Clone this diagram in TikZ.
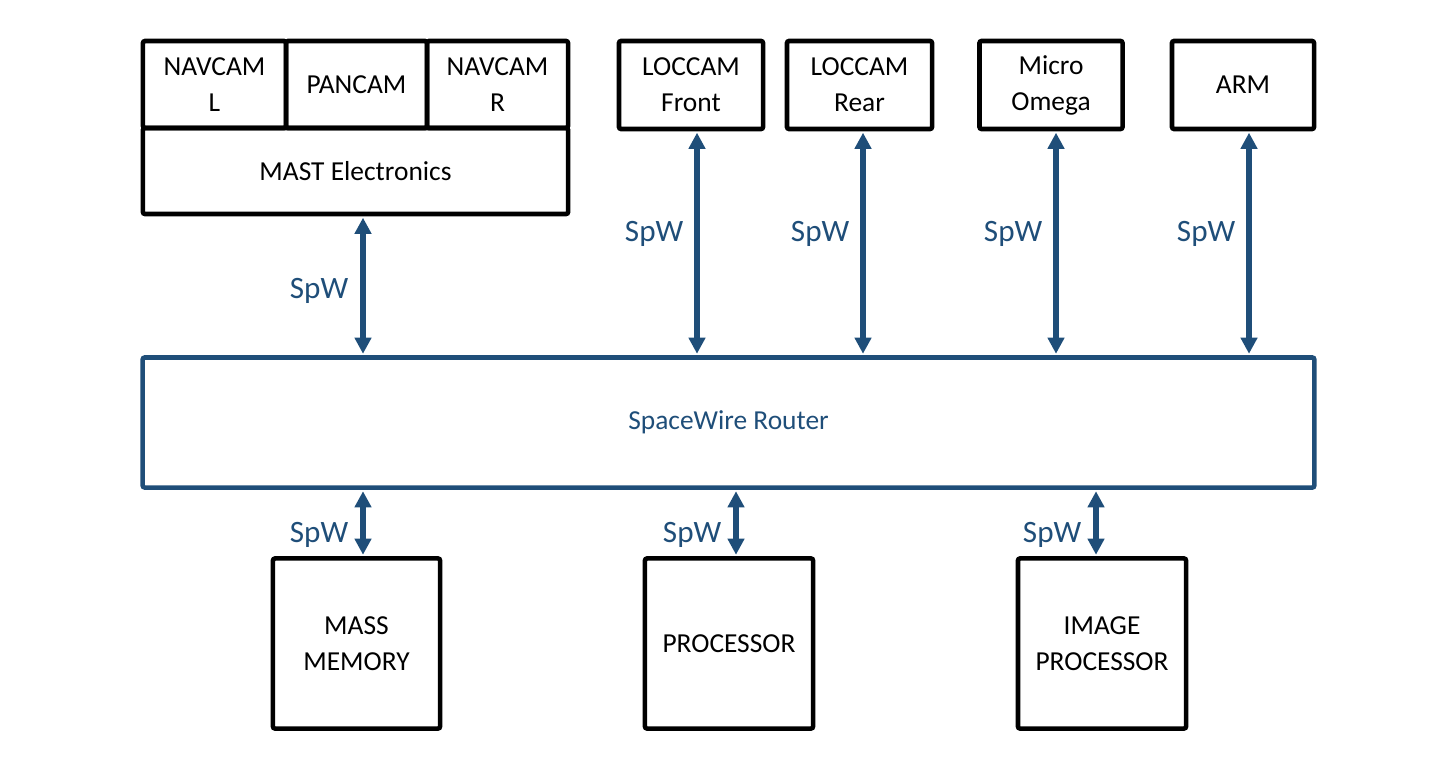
\documentclass[tikz,border=0pt]{standalone}
\usepackage{fontspec}
\setmainfont{Carlito}
\usetikzlibrary{arrows.meta}
\definecolor{sblue}{RGB}{31,78,121}
\tikzset{
  box/.style={draw=black, line width=1.3pt, rounded corners=0.6pt, align=center, inner sep=0pt, font=\fontsize{7.8}{10.2}\selectfont, text=black},
  rbox/.style={draw=sblue, line width=1.3pt, rounded corners=0.6pt, align=center, inner sep=0pt, font=\fontsize{7.8}{9.5}\selectfont, text=sblue},
  link/.style={draw=sblue, line width=1.45pt, {Triangle[length=4.6pt,width=4.6pt]}-{Triangle[length=4.6pt,width=4.6pt]}, shorten <=0.4pt, shorten >=0.4pt},
  spw/.style={text=sblue, font=\fontsize{8.85}{11}\selectfont, inner sep=0pt, anchor=east}
}
\begin{document}
\begin{tikzpicture}[x=0.01cm, y=-0.01cm]
\useasboundingbox (0,0) rectangle (1452,776);
% MAST group
\node[box, minimum width=1.43cm, minimum height=0.87cm] (navl) at (214.5,84.5) {NAVCAM\\L};
\node[box, minimum width=1.41cm, minimum height=0.87cm] (pancam) at (356.5,84.5) {PANCAM};
\node[box, minimum width=1.41cm, minimum height=0.87cm] (navr) at (497.5,84.5) {NAVCAM\\R};
\node[box, minimum width=4.25cm, minimum height=0.86cm] (mast) at (355.5,171) {MAST Electronics};
% top boxes
\node[box, minimum width=1.44cm, minimum height=0.88cm] (front) at (691,85) {LOCCAM\\Front};
\node[box, minimum width=1.45cm, minimum height=0.88cm] (rear) at (859.5,85) {LOCCAM\\Rear};
\node[box, minimum width=1.43cm, minimum height=0.88cm] (omega) at (1051,85) {Micro\\Omega};
\node[box, minimum width=1.42cm, minimum height=0.88cm] (arm) at (1243,85) {ARM};
% router
\node[rbox, minimum width=11.71cm, minimum height=1.30cm] (router) at (728.5,422.5) {SpaceWire Router};
% bottom boxes
\node[box, minimum width=1.67cm, minimum height=1.70cm] (mem) at (356.5,643.5) {MASS\\MEMORY};
\node[box, minimum width=1.68cm, minimum height=1.70cm] (proc) at (729,643.5) {PROCESSOR};
\node[box, minimum width=1.68cm, minimum height=1.70cm] (img) at (1102,643.5) {IMAGE\\PROCESSOR};
% links top
\draw[link] (mast.south -| 363,0) -- (router.north -| 363,0);
\draw[link] (front.south -| 697,0) -- (router.north -| 697,0);
\draw[link] (rear.south -| 863,0) -- (router.north -| 863,0);
\draw[link] (omega.south -| 1056,0) -- (router.north -| 1056,0);
\draw[link] (arm.south -| 1249,0) -- (router.north -| 1249,0);
% links bottom
\draw[link] (router.south -| 363,0) -- (mem.north -| 363,0);
\draw[link] (router.south -| 736,0) -- (proc.north -| 736,0);
\draw[link] (router.south -| 1096,0) -- (img.north -| 1096,0);
% labels
\node[spw] (l1) at (349,291) {SpW};
\node[spw] (l2) at (684,234) {SpW};
\node[spw] (l3) at (850,234) {SpW};
\node[spw] (l4) at (1043,234) {SpW};
\node[spw] (l5) at (1236,234) {SpW};
\node[spw] (l6) at (349,535) {SpW};
\node[spw] (l7) at (722,535) {SpW};
\node[spw] (l8) at (1082,535) {SpW};
\end{tikzpicture}
\end{document}
